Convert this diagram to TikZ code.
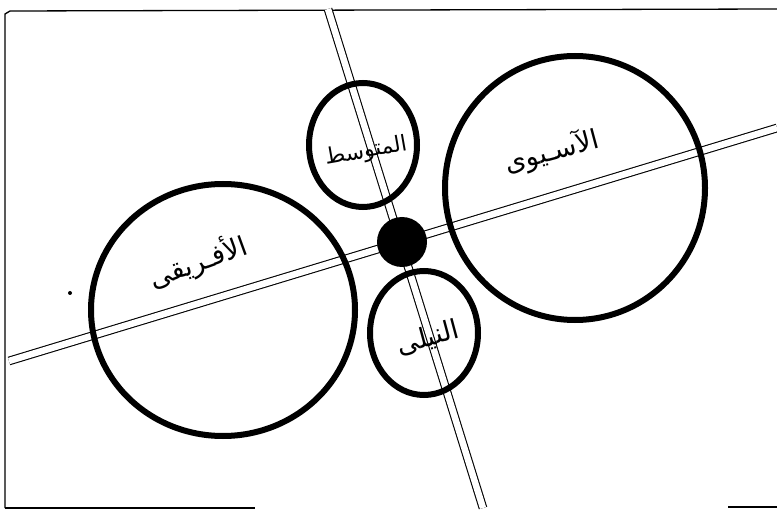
\documentclass[tikz,border=0pt]{standalone}
\usepackage{fontspec}
\newfontfamily\arabicfont[Script=Arabic]{DejaVu Sans}
\TeXXeTstate=1
\usetikzlibrary{shapes.geometric}
\tikzset{
  ring/.style={ellipse, draw=black, line width=6pt, fill=none, inner sep=0pt},
  road/.style={draw=black, double=white, double distance=6.5pt, line width=1.1pt},
  frameline/.style={draw=black, line width=1.3pt},
  lbl/.style={font=\arabicfont\fontsize{27}{30}\selectfont, inner sep=0pt},
}
\begin{document}
\begin{tikzpicture}[x=1pt,y=-1pt]
\useasboundingbox (0,0) rectangle (777,513);
% frame
\coordinate (fTL) at (5,14);
\coordinate (fTLr) at (10,11);
\coordinate (fTR) at (777,9);
\coordinate (fBL) at (5,508);
\coordinate (fBR) at (255,508);
\coordinate (fBR2a) at (728,507);
\coordinate (fBR2b) at (777,507);
\draw[frameline] (fBL) -- (fTL) -- (fTLr) -- (fTR);
\draw[frameline] (fBL) -- (fBR);
\draw[frameline] (fBR2a) -- (fBR2b);
% roads
\coordinate (hA) at (9,361);
\coordinate (hB) at (777,128);
\coordinate (vA) at (328,9);
\coordinate (vB) at (483,508);
\draw[road] (hA) -- (hB);
\draw[road] (vA) -- (vB);
% circles
\node[ring, minimum width=264pt, minimum height=252pt] (afr) at (223,310) {};
\node[ring, minimum width=260pt, minimum height=264pt] (asia) at (575,188) {};
\node[ring, minimum width=108pt, minimum height=124pt] (med) at (363,145) {};
\node[ring, minimum width=108pt, minimum height=124pt] (nile) at (424,333) {};
\node[circle, fill=black, minimum size=50pt, inner sep=0pt] (hub) at (402,242) {};
\node[circle, fill=black, minimum size=4pt, inner sep=0pt] (spk) at (70,293) {};
% labels
\node[lbl, rotate=20] (tafr) at (198,262) {\beginR الأفـريقى\endR};
\node[lbl, rotate=15] (tasia) at (552,152) {\beginR الآسـيوى\endR};
\node[lbl, rotate=10, font=\arabicfont\fontsize{22}{26}\selectfont] (tmed) at (366,152) {\beginR المتوسط\endR};
\node[lbl, rotate=15] (tnile) at (428,338) {\beginR النيلى\endR};
\end{tikzpicture}
\end{document}
